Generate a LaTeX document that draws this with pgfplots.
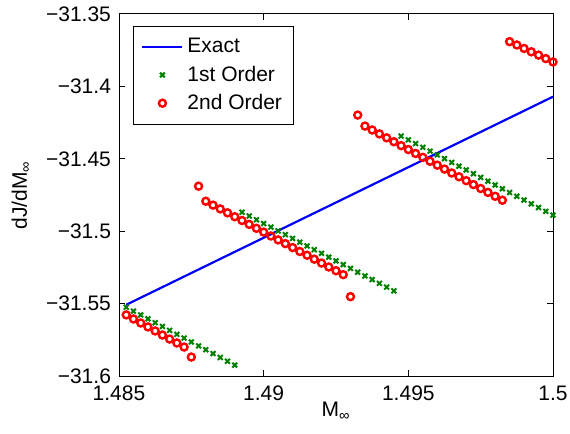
\documentclass[border=0pt]{standalone}
\usepackage{fontspec}
\setmainfont{Liberation Sans}
\usepackage{pgfplots}
\pgfplotsset{compat=1.18}
\definecolor{mgreen}{rgb}{0,0.5,0}
\begin{document}
\begin{tikzpicture}
\begin{axis}[
	name=ax,
	scale only axis,
	width=217pt, height=181pt,
	xmin=1.485, xmax=1.5,
	ymin=-31.6, ymax=-31.35,
	xtick={1.485,1.49,1.495,1.5},
	xticklabels={1.485,1.49,1.495,1.5},
	ytick={-31.6,-31.55,-31.5,-31.45,-31.4,-31.35},
	yticklabels={−31.6,−31.55,−31.5,−31.45,−31.4,−31.35},
	tick align=inside,
	tick pos=both,
	major tick length=3pt,
	axis line style={line width=0.5pt},
	every tick/.style={black, line width=0.5pt},
	font=\fontsize{10.5}{12.5}\selectfont,
	xticklabel style={yshift=-1.5pt},
	yticklabel style={xshift=-0.5pt},
	xlabel={M\textsubscript{∞}},
	ylabel={dJ/dM\textsubscript{∞}},
	xlabel style={at={(axis description cs:0.5,-0.113)}, anchor=base},
	ylabel style={at={(axis description cs:-0.212,0.5)}, anchor=base},
	legend image code/.code={
		\draw[mark repeat=2,mark phase=2,#1] plot coordinates {(0cm,0cm) (0.35cm,0cm) (0.7cm,0cm)};},
	legend style={at={(axis description cs:0.032,0.967)}, anchor=north west,
		draw=black, line width=0.5pt, fill=white, cells={anchor=west},
		row sep=1pt, inner xsep=4pt, inner ysep=4pt,
		font=\fontsize{10.5}{12.5}\selectfont},
]
% exact
\addplot[blue, line width=1.1pt] coordinates {(1.48525,-31.5508) (1.5,-31.4071)};
\addlegendentry{Exact}

% 1st order, three pieces
\addplot[mgreen, only marks, mark=x, mark size=1.7pt, line width=1pt] coordinates {
(1.48525,-31.5525) (1.4855,-31.5552) (1.48575,-31.5578) (1.486,-31.5605)
(1.48625,-31.5632) (1.4865,-31.5658) (1.48675,-31.5685) (1.487,-31.5712)
(1.48725,-31.5738) (1.4875,-31.5765) (1.48775,-31.5792) (1.488,-31.5818)
(1.48825,-31.5845) (1.4885,-31.5872) (1.48875,-31.5898) (1.489,-31.5925)
(1.48925,-31.4869) (1.4895,-31.4895) (1.48975,-31.4921) (1.49,-31.4947)
(1.49025,-31.4972) (1.4905,-31.4998) (1.49075,-31.5024) (1.491,-31.5050)
(1.49125,-31.5076) (1.4915,-31.5102) (1.49175,-31.5128) (1.492,-31.5153)
(1.49225,-31.5179) (1.4925,-31.5205) (1.49275,-31.5231) (1.493,-31.5257)
(1.49325,-31.5283) (1.4935,-31.5309) (1.49375,-31.5334) (1.494,-31.5360)
(1.49425,-31.5386) (1.4945,-31.5412)
(1.49475,-31.4343) (1.495,-31.4369) (1.49525,-31.4395) (1.4955,-31.4421)
(1.49575,-31.4447) (1.496,-31.4473) (1.49625,-31.4499) (1.4965,-31.4525)
(1.49675,-31.4551) (1.497,-31.4577) (1.49725,-31.4603) (1.4975,-31.4629)
(1.49775,-31.4655) (1.498,-31.4681) (1.49825,-31.4707) (1.4985,-31.4733)
(1.49875,-31.4759) (1.499,-31.4785) (1.49925,-31.4811) (1.4995,-31.4837)
(1.49975,-31.4863) (1.5,-31.4889)
};
\addlegendentry{1st Order}

% 2nd order, four pieces
\addplot[red, only marks, mark=o, mark size=1.75pt, line width=1.2pt] coordinates {
(1.48525,-31.5578) (1.4855,-31.5606) (1.48575,-31.5634) (1.486,-31.5661)
(1.48625,-31.5689) (1.4865,-31.5717) (1.48675,-31.5745) (1.487,-31.5772)
(1.48725,-31.5800) (1.4875,-31.5869)
(1.48775,-31.4689) (1.488,-31.4793) (1.48825,-31.4820) (1.4885,-31.4846)
(1.48875,-31.4873) (1.489,-31.4900) (1.48925,-31.4926) (1.4895,-31.4953)
(1.48975,-31.4980) (1.49,-31.5006) (1.49025,-31.5033) (1.4905,-31.5060)
(1.49075,-31.5086) (1.491,-31.5113) (1.49125,-31.5140) (1.4915,-31.5166)
(1.49175,-31.5193) (1.492,-31.5220) (1.49225,-31.5247) (1.4925,-31.5273)
(1.49275,-31.5300) (1.493,-31.5452)
(1.49325,-31.4198) (1.4935,-31.4274) (1.49375,-31.4301) (1.494,-31.4328)
(1.49425,-31.4355) (1.4945,-31.4382) (1.49475,-31.4409) (1.495,-31.4436)
(1.49525,-31.4463) (1.4955,-31.4490) (1.49575,-31.4517) (1.496,-31.4544)
(1.49625,-31.4571) (1.4965,-31.4598) (1.49675,-31.4624) (1.497,-31.4651)
(1.49725,-31.4678) (1.4975,-31.4705) (1.49775,-31.4732) (1.498,-31.4759)
(1.49825,-31.4786)
(1.4985,-31.3691) (1.49875,-31.3714) (1.499,-31.3738) (1.49925,-31.3761)
(1.4995,-31.3784) (1.49975,-31.3808) (1.5,-31.3831)
};
\addlegendentry{2nd Order}
\end{axis}
\path (ax.south west) ++(-59.5pt,-28.5pt) coordinate (bl);
\path (ax.north east) ++(8.5pt,7pt) coordinate (tr);
\pgfresetboundingbox
\path (bl) rectangle (tr);
\end{tikzpicture}
\end{document}
